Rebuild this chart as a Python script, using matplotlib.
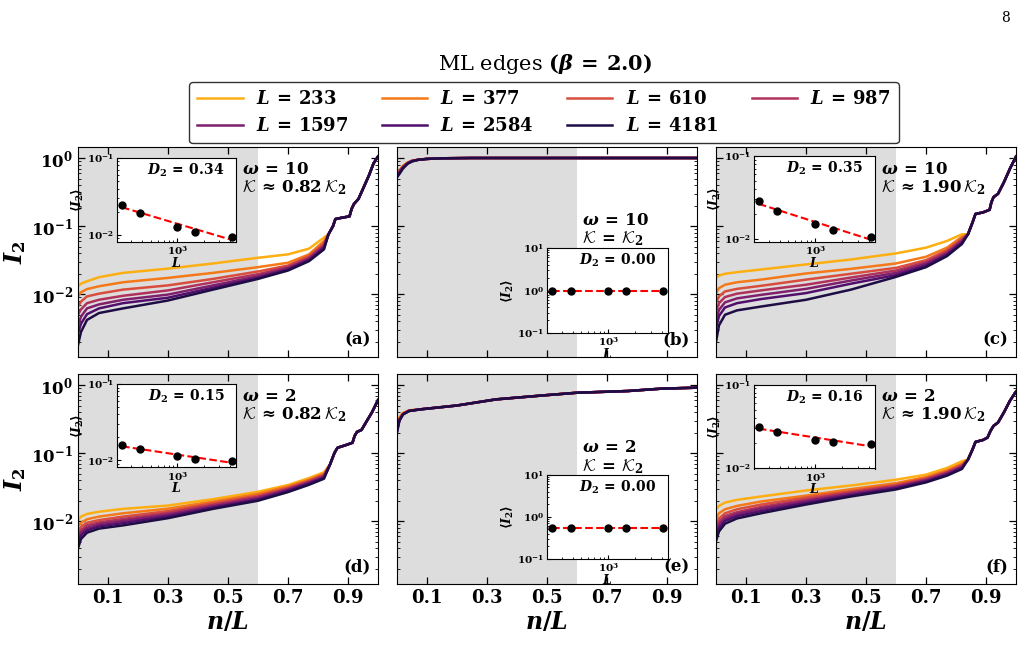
import numpy as np
import matplotlib
matplotlib.use("Agg")
import matplotlib.pyplot as plt
from matplotlib.lines import Line2D
from matplotlib.ticker import LogLocator, NullFormatter, FixedLocator, FixedFormatter

plt.rcParams.update({
    "font.family": "DejaVu Serif",
    "font.weight": "bold",
    "mathtext.fontset": "custom",
    "mathtext.rm": "DejaVu Serif:bold",
    "mathtext.it": "DejaVu Serif:italic:bold",
    "mathtext.bf": "DejaVu Serif:bold",
    "mathtext.cal": "cmsy10",
})

# ---------------- data ----------------
L_SIZES = [233, 377, 610, 987, 1597, 2584, 4181]
X_TICKS = [0.1, 0.3, 0.5, 0.7, 0.9]
PANEL_LABELS = ["(a)", "(b)", "(c)", "(d)", "(e)", "(f)"]

X_HEAD = [0.0, 0.01, 0.03, 0.07, 0.15, 0.3, 0.45, 0.6, 0.7, 0.77, 0.82]

HEAD_A = [
    [0.0131, 0.0143, 0.0155, 0.0178, 0.0206, 0.0238, 0.0283, 0.0343, 0.0385, 0.0467, 0.0679],
    [0.0093, 0.0107, 0.0119, 0.0131, 0.0150, 0.0174, 0.0206, 0.0250, 0.0290, 0.0385, 0.0606],
    [0.0066, 0.0078, 0.0093, 0.0102, 0.0117, 0.0135, 0.0168, 0.0216, 0.0264, 0.0363, 0.0560],
    [0.0050, 0.0060, 0.0074, 0.0083, 0.0095, 0.0114, 0.0150, 0.0197, 0.0252, 0.0343, 0.0523],
    [0.0035, 0.0047, 0.0062, 0.0071, 0.0083, 0.0099, 0.0135, 0.0184, 0.0241, 0.0331, 0.0500],
    [0.00266, 0.0037, 0.0051, 0.0062, 0.0074, 0.0089, 0.0125, 0.0174, 0.0231, 0.0317, 0.0477],
    [0.0018, 0.0028, 0.0042, 0.0053, 0.0062, 0.0081, 0.0117, 0.0168, 0.0223, 0.0306, 0.0456],
]
X_TAIL_A = [0.835, 0.85, 0.858, 0.88, 0.905, 0.912, 0.92, 0.935, 0.95, 0.97, 0.985, 1.0]
TAIL_A = [0.076, 0.100, 0.127, 0.133, 0.139, 0.179, 0.212, 0.251, 0.353, 0.557, 0.83, 1.05]

HEAD_C = [
    [0.0174, 0.0188, 0.0200, 0.0211, 0.0231, 0.0274, 0.0324, 0.0398, 0.0483, 0.0606, 0.0760],
    [0.0104, 0.0123, 0.0138, 0.0150, 0.0164, 0.0202, 0.0236, 0.0283, 0.0355, 0.0483, 0.0700],
    [0.0074, 0.0093, 0.0110, 0.0120, 0.0133, 0.0164, 0.0200, 0.0244, 0.0317, 0.0446, 0.0656],
    [0.0056, 0.0074, 0.0091, 0.0102, 0.0114, 0.0138, 0.0176, 0.0223, 0.0296, 0.0417, 0.0627],
    [0.0042, 0.0059, 0.0076, 0.0087, 0.0098, 0.0120, 0.0159, 0.0206, 0.0280, 0.0398, 0.0600],
    [0.0032, 0.0048, 0.0064, 0.0074, 0.0085, 0.0104, 0.0143, 0.0191, 0.0264, 0.0380, 0.0573],
    [0.0020, 0.0035, 0.0050, 0.0058, 0.0066, 0.0083, 0.0117, 0.0180, 0.0250, 0.0363, 0.0547],
]
X_TAIL_C = [0.84, 0.855, 0.865, 0.89, 0.912, 0.918, 0.925, 0.94, 0.96, 0.98, 1.0]
TAIL_C = [0.076, 0.113, 0.151, 0.159, 0.174, 0.224, 0.266, 0.298, 0.443, 0.70, 1.05]

HEAD_D = [
    [0.0104, 0.0117, 0.0128, 0.0138, 0.0152, 0.0170, 0.0211, 0.0271, 0.0340, 0.0431, 0.0523],
    [0.0085, 0.0095, 0.0107, 0.0117, 0.0131, 0.0153, 0.0195, 0.0253, 0.0324, 0.0407, 0.0500],
    [0.0072, 0.0083, 0.0095, 0.0104, 0.0117, 0.0141, 0.0184, 0.0238, 0.0310, 0.0394, 0.0483],
    [0.0064, 0.0074, 0.0087, 0.0096, 0.0108, 0.0132, 0.0174, 0.0228, 0.0299, 0.0380, 0.0467],
    [0.0057, 0.0068, 0.0080, 0.0090, 0.0101, 0.0125, 0.0166, 0.0218, 0.0290, 0.0367, 0.0451],
    [0.0050, 0.0062, 0.0074, 0.0084, 0.0094, 0.0118, 0.0159, 0.0208, 0.0280, 0.0359, 0.0436],
    [0.0040, 0.0055, 0.0068, 0.0078, 0.0087, 0.0111, 0.0152, 0.0200, 0.0268, 0.0343, 0.0421],
]
X_TAIL_D = [0.84, 0.855, 0.865, 0.89, 0.915, 0.922, 0.93, 0.945, 0.96, 0.98, 1.0]
TAIL_D = [0.068, 0.101, 0.120, 0.130, 0.142, 0.179, 0.205, 0.219, 0.283, 0.398, 0.60]

HEAD_F = [
    [0.0150, 0.0168, 0.0188, 0.0206, 0.0231, 0.0283, 0.0335, 0.0407, 0.0483, 0.0606, 0.0760],
    [0.0110, 0.0131, 0.0150, 0.0168, 0.0195, 0.0238, 0.0296, 0.0363, 0.0446, 0.0560, 0.0700],
    [0.0093, 0.0110, 0.0131, 0.0150, 0.0176, 0.0223, 0.0277, 0.0343, 0.0426, 0.0535, 0.0671],
    [0.0081, 0.0098, 0.0119, 0.0136, 0.0162, 0.0208, 0.0264, 0.0328, 0.0412, 0.0517, 0.0649],
    [0.0071, 0.0089, 0.0109, 0.0128, 0.0152, 0.0197, 0.0253, 0.0317, 0.0398, 0.0500, 0.0627],
    [0.0062, 0.0080, 0.0101, 0.0119, 0.0141, 0.0186, 0.0241, 0.0306, 0.0385, 0.0483, 0.0606],
    [0.0051, 0.0071, 0.0092, 0.0110, 0.0131, 0.0176, 0.0231, 0.0293, 0.0372, 0.0467, 0.0586],
]
X_TAIL_F = [0.84, 0.855, 0.865, 0.89, 0.905, 0.915, 0.925, 0.94, 0.96, 0.98, 1.0]
TAIL_F = [0.0805, 0.113, 0.146, 0.156, 0.169, 0.212, 0.251, 0.281, 0.398, 0.589, 0.80]

X_HEAD_B = [0.0, 0.01, 0.02, 0.035, 0.05]
HEAD_B = [
    [0.58, 0.68, 0.77, 0.86, 0.920],
    [0.57, 0.67, 0.76, 0.85, 0.915],
    [0.56, 0.66, 0.75, 0.845, 0.910],
    [0.55, 0.65, 0.74, 0.84, 0.905],
    [0.54, 0.64, 0.73, 0.835, 0.900],
    [0.53, 0.62, 0.72, 0.83, 0.895],
    [0.52, 0.60, 0.70, 0.82, 0.890],
]
X_TAIL_B = [0.07, 0.1, 0.15, 0.25, 0.5, 0.75, 1.0]
TAIL_B = [0.94, 0.97, 0.99, 1.0, 1.0, 1.0, 1.0]

X_HEAD_E = [0.0, 0.008, 0.02, 0.04]
HEAD_E = [
    [0.27, 0.34, 0.39, 0.425],
    [0.25, 0.33, 0.385, 0.422],
    [0.24, 0.32, 0.38, 0.420],
    [0.23, 0.31, 0.375, 0.418],
    [0.22, 0.305, 0.372, 0.416],
    [0.21, 0.30, 0.37, 0.415],
    [0.20, 0.30, 0.37, 0.415],
]
X_TAIL_E = [0.08, 0.2, 0.33, 0.49, 0.6, 0.77, 0.88, 1.0]
TAIL_E = [0.44, 0.50, 0.615, 0.705, 0.77, 0.816, 0.883, 0.914]

INSET_L = [233, 377, 987, 1597, 4181]
INSET_A = [0.0245, 0.0195, 0.0128, 0.0110, 0.0095]
INSET_B = [1.0, 1.0, 1.0, 1.0, 1.0]
INSET_C = [0.0282, 0.0219, 0.0151, 0.0129, 0.0105]
INSET_D = [0.0161, 0.0140, 0.0113, 0.0105, 0.0099]
INSET_E = [0.55, 0.55, 0.55, 0.55, 0.55]
INSET_F = [0.0314, 0.0271, 0.0217, 0.0205, 0.0195]
D2_VALUES = ["0.34", "0.00", "0.35", "0.15", "0.00", "0.16"]
OMEGAS = ["10", "10", "10", "2", "2", "2"]
KAPPAS = [r"\approx\, 0.82\,\mathcal{K}_2", r"=\, \mathcal{K}_2", r"\approx\, 1.90\,\mathcal{K}_2",
          r"\approx\, 0.82\,\mathcal{K}_2", r"=\, \mathcal{K}_2", r"\approx\, 1.90\,\mathcal{K}_2"]

# ---------------- figure ----------------
W, H = 1028, 661
fig = plt.figure(figsize=(W / 100, H / 100), dpi=100)
colors = plt.cm.inferno(np.linspace(0.82, 0.12, len(L_SIZES)))

col_left = [78, 397, 716]
col_w = 300
row_top = [147, 374]
row_h = 210

panels = [
    (X_HEAD, HEAD_A, X_TAIL_A, TAIL_A),
    (X_HEAD_B, HEAD_B, X_TAIL_B, TAIL_B),
    (X_HEAD, HEAD_C, X_TAIL_C, TAIL_C),
    (X_HEAD, HEAD_D, X_TAIL_D, TAIL_D),
    (X_HEAD_E, HEAD_E, X_TAIL_E, TAIL_E),
    (X_HEAD, HEAD_F, X_TAIL_F, TAIL_F),
]
insets = [INSET_A, INSET_B, INSET_C, INSET_D, INSET_E, INSET_F]
inset_ylims = [(0.0081, 0.1), (0.1, 10), (0.0092, 0.1), (0.0081, 0.1), (0.1, 10), (0.0099, 0.1)]
inset_pos = [(0.13, 0.548, 0.397, 0.40), (0.50, 0.114, 0.403, 0.405), (0.126, 0.548, 0.405, 0.41),
             (0.13, 0.555, 0.397, 0.397), (0.50, 0.12, 0.403, 0.40), (0.126, 0.55, 0.405, 0.40)]
text_pos = [(0.547, 0.935), (0.615, 0.69), (0.55, 0.935), (0.547, 0.935), (0.615, 0.69), (0.55, 0.935)]

for i in range(6):
    r, c = divmod(i, 3)
    left = col_left[c] / W
    bottom = 1 - (row_top[r] + row_h) / H
    ax = fig.add_axes([left, bottom, col_w / W, row_h / H])
    ax.axvspan(0, 0.6, color="#dddddd", lw=0, zorder=0)
    xh, heads, xt, tail = panels[i]
    for k, L in enumerate(L_SIZES):
        ax.plot(list(xh) + list(xt), list(heads[k]) + list(tail), color=colors[k], lw=1.8, zorder=2)
    ax.set_yscale("log")
    ax.set_xlim(0, 1)
    ax.set_ylim(1.2e-3, 1.45)
    ax.set_xticks(X_TICKS)
    ax.yaxis.set_major_locator(FixedLocator([1e-2, 1e-1, 1e0]))
    ax.yaxis.set_minor_locator(LogLocator(base=10, subs=np.arange(2, 10) * 1.0, numticks=20))
    ax.yaxis.set_minor_formatter(NullFormatter())
    ax.tick_params(which="both", direction="in", top=True, right=True)
    ax.tick_params(which="major", length=5, width=0.9, labelsize=13)
    ax.tick_params(axis="y", which="major", labelsize=12)
    ax.tick_params(which="minor", length=2.5, width=0.6)
    if c == 0:
        ax.yaxis.set_major_formatter(FixedFormatter([r"$\mathbf{10^{-2}}$", r"$\mathbf{10^{-1}}$", r"$\mathbf{10^{0}}$"]))
        ax.set_ylabel(r"$I_2$", fontsize=17)
        ax.yaxis.set_label_coords(-0.165, 0.5)
    else:
        ax.set_yticklabels([])
    if r == 1:
        ax.set_xticklabels([f"{v:.1f}" for v in X_TICKS], fontweight="bold")
        ax.set_xlabel(r"$n/L$", fontsize=17, labelpad=2)
    else:
        ax.set_xticklabels([])
    ax.text(0.975, 0.04, PANEL_LABELS[i], transform=ax.transAxes, ha="right", va="bottom",
            fontsize=12, fontweight="bold")
    tx, ty = text_pos[i]
    ax.text(tx, ty, r"$\omega\, =\, %s$" % OMEGAS[i] + "\n" + r"$\mathcal{K}\, %s$" % KAPPAS[i],
            transform=ax.transAxes, ha="left", va="top", fontsize=12, linespacing=1.05)

    # inset
    ia = ax.inset_axes(inset_pos[i])
    ia.set_facecolor("white")
    ia.set_zorder(5)
    yv = insets[i]
    ia.plot(INSET_L, yv, "o", color="black", ms=5, zorder=3)
    p = np.polyfit(np.log10(INSET_L), np.log10(yv), 1)
    lf = np.array([INSET_L[0], INSET_L[-1]])
    ia.plot(lf, 10 ** np.polyval(p, np.log10(lf)), "--", color="red", lw=1.5, zorder=2)
    ia.set_xscale("log")
    ia.set_yscale("log")
    ia.set_xlim(205, 4700)
    ia.set_ylim(*inset_ylims[i])
    ia.xaxis.set_major_locator(FixedLocator([1e3]))
    ia.xaxis.set_major_formatter(FixedFormatter([r"$\mathbf{10^{3}}$"]))
    ia.xaxis.set_minor_locator(LogLocator(base=10, subs=np.arange(2, 10) * 1.0, numticks=20))
    ia.xaxis.set_minor_formatter(NullFormatter())
    if inset_ylims[i][1] > 1:
        ia.yaxis.set_major_locator(FixedLocator([0.1, 1, 10]))
        ia.yaxis.set_major_formatter(FixedFormatter([r"$\mathbf{10^{-1}}$", r"$\mathbf{10^{0}}$", r"$\mathbf{10^{1}}$"]))
    else:
        ia.yaxis.set_major_locator(FixedLocator([0.01, 0.1]))
        ia.yaxis.set_major_formatter(FixedFormatter([r"$\mathbf{10^{-2}}$", r"$\mathbf{10^{-1}}$"]))
    ia.yaxis.set_minor_locator(LogLocator(base=10, subs=np.arange(2, 10) * 1.0, numticks=20))
    ia.yaxis.set_minor_formatter(NullFormatter())
    ia.tick_params(which="both", direction="in", labelsize=7.5, pad=2)
    ia.tick_params(which="major", length=3)
    ia.tick_params(which="minor", length=1.5)
    ia.set_xlabel(r"$L$", fontsize=9, labelpad=-1)
    ia.set_ylabel(r"$\langle I_2\rangle$", fontsize=9, labelpad=1)
    ia.text(0.58, 0.85, r"$D_2\, =\, %s$" % D2_VALUES[i], transform=ia.transAxes,
            ha="center", va="center", fontsize=10)

# legend (row-wise order: 233 377 610 987 / 1597 2584 4181) + title
handles = [Line2D([0], [0], color=colors[k], lw=1.8) for k in range(len(L_SIZES))]
labels = [r"$L\,=\,%d$" % L for L in L_SIZES]
order = [0, 4, 1, 5, 2, 6, 3]
leg = fig.legend([handles[j] for j in order], [labels[j] for j in order],
                 loc="upper center", bbox_to_anchor=(544 / W, 1 - 82 / H), borderaxespad=0,
                 ncol=4, fontsize=13, frameon=True, fancybox=True, edgecolor="black",
                 handlelength=2.5, columnspacing=1.85, handletextpad=0.75, borderpad=0.45,
                 labelspacing=0.5)
leg.get_frame().set_linewidth(1.0)
fig.text(545 / W, 1 - 64 / H, r"ML edges $(\beta\,=\,2.0)$", ha="center", va="center",
         fontsize=15, fontweight="normal")
fig.text(1005 / W, 1 - 18 / H, "8", ha="center", va="center", fontsize=10, fontweight="normal")

fig.savefig("out.png", dpi=100)
